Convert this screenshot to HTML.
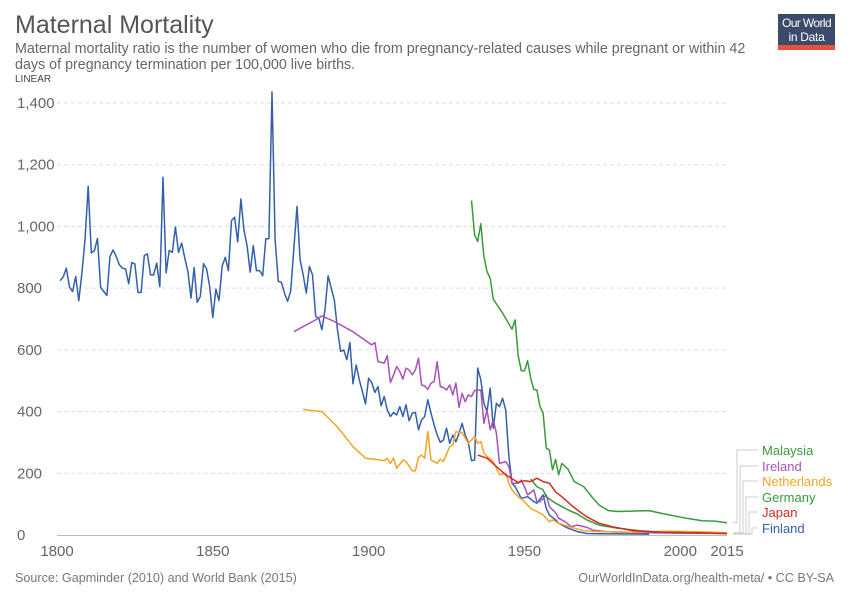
<!DOCTYPE html>
<html><head><meta charset="utf-8"><style>
body{margin:0;background:#fff;font-family:"Liberation Sans",sans-serif;}
svg text{font-family:"Liberation Sans",sans-serif;}
</style></head><body>
<svg width="850" height="600" viewBox="0 0 850 600">
<text x="15" y="33" font-size="25" fill="#555">Maternal Mortality</text>
<text x="15" y="53" font-size="14.3" fill="#666">Maternal mortality ratio is the number of women who die from pregnancy-related causes while pregnant or within 42</text>
<text x="15" y="69" font-size="14.3" fill="#666">days of pregnancy termination per 100,000 live births.</text>
<text x="15" y="82" font-size="10" fill="#444">LINEAR</text>
<g>
<rect x="778" y="14" width="57" height="31" fill="#3c4a6c"/>
<rect x="778" y="45" width="57" height="5" fill="#e5533b"/>
<text x="806.5" y="27" font-size="12" fill="#fff" text-anchor="middle" letter-spacing="-0.6">Our World</text>
<text x="806.5" y="41" font-size="12" fill="#fff" text-anchor="middle" letter-spacing="-0.3">in Data</text>
</g>
<g id="grid"></g><g id="series"></g><g id="labels"></g>
<text x="15" y="582" font-size="12.6" fill="#777">Source: Gapminder (2010) and World Bank (2015)</text>
<text x="834" y="582" font-size="12.6" fill="#777" text-anchor="end">OurWorldInData.org/health-meta/ • CC BY-SA</text>
</svg>
<script>
const yTicks=[0,200,400,600,800,1000,1200,1400];
const xTicks=[1800,1850,1900,1950,2000,2015];
const seriesNames=["Malaysia","Ireland","Netherlands","Germany","Japan","Finland"];
const seriesColors=["#3a9a3a","#a652ba","#f6a324","#3a9a3a","#d42b21","#3360a9"];
const finlandYears=[1801,1802,1803,1804,1805,1806,1807,1808,1809,1810,1811,1812,1813,1814,1815,1816,1817,1818,1819,1820,1821,1822,1823,1824,1825,1826,1827,1828,1829,1830,1831,1832,1833,1834,1835,1836,1837,1838,1839,1840,1841,1842,1843,1844,1845,1846,1847,1848,1849,1850,1851,1852,1853,1854,1855,1856,1857,1858,1859,1860,1861,1862,1863,1864,1865,1866,1867,1868,1869,1870,1871,1872,1873,1874,1875,1877,1878,1879,1880,1881,1882,1883,1884,1885,1886,1887,1888,1889,1890,1891,1892,1893,1894,1895,1896,1897,1898,1899,1900,1901,1902,1903,1904,1905,1906,1907,1908,1909,1910,1911,1912,1913,1914,1915,1916,1917,1918,1919,1920,1921,1922,1923,1924,1925,1926,1927,1928,1929,1930,1931,1932,1933,1934,1935,1936,1937,1938,1939,1940,1941,1942,1943,1944,1945,1946,1947,1949,1951,1953,1954,1956,1957,1958,1960,1961,1964,1967,1970,1974,1990,2015];
const finlandValues=[824,836,865,803,789,838,759,849,957,1130,914,922,961,803,789,776,903,924,903,876,865,862,814,883,878,786,786,906,911,843,843,881,805,1160,849,922,916,998,916,946,897,854,768,867,754,773,879,862,805,705,797,760,872,900,857,1019,1030,950,1089,987,937,852,938,857,857,840,960,960,1436,957,822,819,784,757,791,1065,892,843,784,870,843,708,703,665,730,840,800,762,665,595,600,568,624,490,551,503,465,425,508,494,462,481,419,449,405,384,397,389,416,384,422,370,395,397,341,373,384,438,395,357,324,300,308,346,297,324,302,330,362,324,300,241,243,541,503,427,400,476,346,427,416,443,405,254,168,157,119,124,108,103,130,86,65,49,38,22,11,5,4,3];
const irelandYears=[1876,1880,1883,1885,1889,1895,1901,1902,1903,1905,1906,1907,1908,1909,1910,1911,1912,1913,1914,1915,1916,1917,1918,1919,1920,1921,1922,1923,1924,1925,1926,1927,1928,1929,1930,1931,1932,1933,1934,1935,1936,1937,1938,1939,1940,1941,1942,1944,1945,1946,1948,1949,1950,1951,1953,1954,1955,1957,1958,1960,1961,1963,1965,1967,1970,1972,1976,1983,2000,2015];
const irelandValues=[659,681,697,710,692,659,616,624,562,557,581,494,519,546,530,505,541,535,519,535,573,486,483,472,492,497,562,481,478,470,486,454,492,414,459,432,454,449,468,470,470,362,405,341,373,330,232,238,222,168,168,178,157,130,146,108,108,130,92,72,54,43,27,32,25,16,11,8,6,5];
const netherlandsYears=[1879,1880,1885,1890,1895,1899,1905,1906,1907,1908,1909,1911,1912,1914,1915,1916,1917,1918,1919,1920,1922,1923,1924,1926,1927,1928,1930,1931,1932,1934,1935,1936,1937,1938,1940,1942,1944,1945,1946,1948,1950,1952,1954,1956,1958,1959,1961,1965,1969,1974,1985,1995,2005,2015];
const netherlandsValues=[408,405,400,350,286,249,241,249,232,249,216,243,238,208,208,252,259,249,335,243,232,246,238,286,292,335,332,314,297,319,297,303,265,254,238,195,200,168,146,124,108,86,76,65,43,49,38,25,14,11,9,12,11,7];
const germanyYears=[1952,1954,1956,1957,1960,1964,1967,1970,1974,1980,1987,1994,2015];
const germanyValues=[181,157,146,124,103,81,68,49,32,22,14,9,5];
const japanYears=[1935,1938,1941,1944,1948,1950,1952,1954,1956,1958,1960,1962,1965,1967,1970,1974,1979,1985,1994,2015];
const japanValues=[259,249,222,195,170,176,173,184,173,168,140,124,97,81,59,38,25,14,9,5];
const malaysiaYears=[1933,1934,1935,1936,1937,1938,1939,1940,1943,1946,1947,1948,1949,1950,1951,1952,1953,1954,1955,1956,1957,1958,1959,1960,1961,1962,1964,1966,1969,1972,1974,1977,1980,1990,1994,2002,2007,2011,2015];
const malaysiaValues=[1084,973,951,1009,903,854,832,764,719,667,697,581,532,532,565,508,472,470,416,395,281,276,211,245,195,232,213,173,157,119,97,79,76,79,70,54,46,45,40];
const allYears=[malaysiaYears,irelandYears,netherlandsYears,germanyYears,japanYears,finlandYears];
const allValues=[malaysiaValues,irelandValues,netherlandsValues,germanyValues,japanValues,finlandValues];

const NS="http://www.w3.org/2000/svg";
const X0=57,X1=727,Y0=535,Y1=103;
function xs(y){return X0+(y-1800)/(2015-1800)*(X1-X0);}
function ys(v){return Y0-v/1400*(Y0-Y1);}
function mk(t,a,p){const e=document.createElementNS(NS,t);for(const k in a)e.setAttribute(k,a[k]);p.appendChild(e);return e;}
const grid=document.getElementById('grid');
yTicks.forEach(v=>{
  if(v>0){const l=mk('line',{x1:X0,x2:X1,y1:ys(v),y2:ys(v),stroke:'#ddd','stroke-dasharray':'4,3'},grid);
  
  }
  const t=mk('text',{x:17,y:ys(v)+5,'font-size':15,fill:'#666'},grid);
  t.textContent=v.toLocaleString('en-US');
  
  
});
const ax=mk('line',{x1:X0,x2:X1,y1:Y0+0.5,y2:Y0+0.5,stroke:'#bbb'},grid);


xTicks.forEach(y=>{
  const t=mk('text',{x:xs(y),y:556,'font-size':15,fill:'#666','text-anchor':'middle'},grid);
  t.textContent=y;
  
  
});
const sg=document.getElementById('series');
[5,1,2,3,4,0].forEach(i=>{
  const d=allYears[i].map((y,j)=>(j?'L':'M')+xs(y).toFixed(1)+','+ys(allValues[i][j]).toFixed(1)).join('');
  const p=mk('path',{d:d,fill:'none',stroke:seriesColors[i],'stroke-width':1.5,'stroke-linejoin':'round'},sg);
  
  
});
const lg=document.getElementById('labels');
const labelY=[450,466,481,497,512,528];
seriesNames.forEach((n,i)=>{
  const ey=ys(allValues[i][allValues[i].length-1]);
  const ex=X1+6, bx=737+i*3;
  const c=mk('path',{d:`M${ex},${ey}H${bx}V${labelY[i]}H${758}`,fill:'none',stroke:'#ccc','stroke-width':1},lg);
  
  
  const t=mk('text',{x:762,y:labelY[i]+5,'font-size':13,fill:seriesColors[i]},lg);
  t.textContent=n;
  
  
});
</script>
</body></html>
